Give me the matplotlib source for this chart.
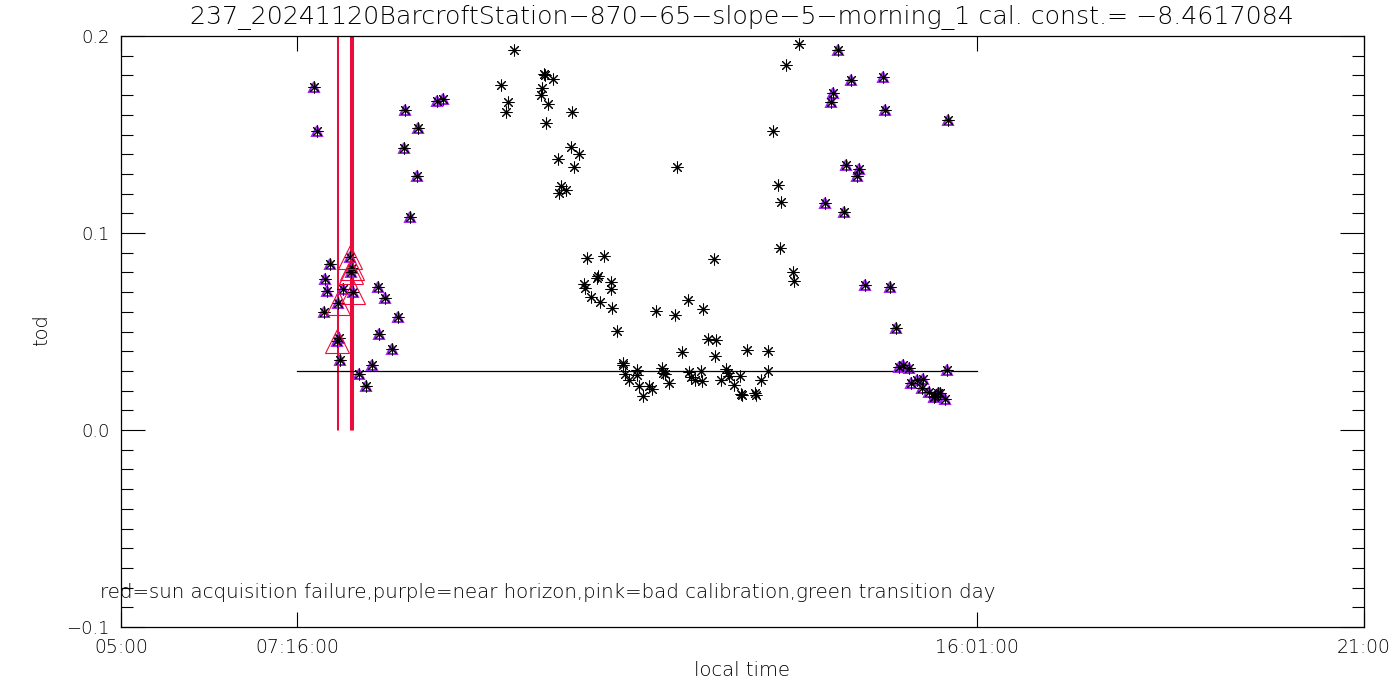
import numpy as np
import matplotlib.pyplot as plt
from matplotlib.ticker import MultipleLocator

# local time in decimal hours, tod
ok_time = [10.063, 9.891, 9.985, 9.960, 10.445, 10.462, 10.557, 10.423, 10.410, 10.500,
           10.809, 10.474, 10.796, 10.891, 10.629, 10.835, 10.668, 10.724, 10.642,
           13.731, 13.564, 13.397, 12.161, 13.461, 13.500,
           11.002, 11.217, 11.136, 11.123, 11.311, 11.303, 10.964, 10.973, 11.054, 11.166,
           11.320, 11.388, 11.466, 11.458, 11.484, 11.539,
           12.637, 13.486, 13.650, 13.663, 11.890, 12.135, 12.302, 12.495, 12.556, 12.663,
           12.225, 12.650, 13.058, 13.332, 11.638, 11.646, 11.668, 11.723, 11.800, 11.831,
           11.964, 11.981, 11.999, 12.058, 12.311, 12.337, 12.388, 12.470, 12.483, 12.791,
           12.817, 12.830, 12.727, 12.894, 12.964, 12.993, 12.980, 13.157, 13.176, 13.234,
           13.324]
ok_tod = [0.1929, 0.1750, 0.1667, 0.1616, 0.1809, 0.1802, 0.1780, 0.1735, 0.1699, 0.1653,
          0.1613, 0.1557, 0.1437, 0.1399, 0.1374, 0.1333, 0.1239, 0.1217, 0.1202,
          0.1958, 0.1851, 0.1516, 0.1334, 0.1242, 0.1156,
          0.0872, 0.0882, 0.0783, 0.0770, 0.0751, 0.0717, 0.0741, 0.0719, 0.0675, 0.0648,
          0.0618, 0.0503, 0.0339, 0.0330, 0.0284, 0.0254,
          0.0868, 0.0922, 0.0804, 0.0755, 0.0604, 0.0582, 0.0660, 0.0614, 0.0462, 0.0457,
          0.0396, 0.0376, 0.0405, 0.0399, 0.0306, 0.0278, 0.0222, 0.0174, 0.0225, 0.0210,
          0.0316, 0.0291, 0.0286, 0.0237, 0.0296, 0.0271, 0.0254, 0.0301, 0.0250, 0.0311,
          0.0291, 0.0276, 0.0252, 0.0227, 0.0273, 0.0178, 0.0183, 0.0186, 0.0178, 0.0252,
          0.0299]

# near horizon (purple)
horizon_time = [7.488, 7.527, 7.694, 7.630, 7.648, 7.861, 7.617, 7.823, 7.806, 8.312,
                8.402, 8.569, 8.325, 8.488, 8.235, 8.067, 8.154, 8.660, 8.827, 8.647,
                8.814, 8.724, 9.064, 9.149,
                14.233, 14.400, 14.812, 14.169, 14.143, 14.838, 15.649, 14.336, 14.503, 14.478,
                14.066, 14.310, 14.573, 14.902, 14.980, 15.010, 15.070, 15.147, 15.636, 15.165,
                15.242, 15.327, 15.314, 15.404, 15.482, 15.512, 15.542, 15.610, 15.468]
horizon_tod = [0.1741, 0.1516, 0.0843, 0.0765, 0.0704, 0.0716, 0.0597, 0.0355, 0.0465, 0.0726,
               0.0668, 0.0574, 0.0487, 0.0413, 0.0328, 0.0283, 0.0225, 0.1624, 0.1531, 0.1430,
               0.1289, 0.1081, 0.1670, 0.1682,
               0.1929, 0.1775, 0.1790, 0.1709, 0.1665, 0.1623, 0.1572, 0.1344, 0.1323, 0.1288,
               0.1151, 0.1107, 0.0734, 0.0724, 0.0516, 0.0320, 0.0328, 0.0313, 0.0306, 0.0239,
               0.0252, 0.0257, 0.0212, 0.0191, 0.0174, 0.0188, 0.0188, 0.0156, 0.0168]

# sun acquisition failure (red), also near horizon
fail_time = [7.948, 7.970, 7.960, 7.990, 7.797, 7.776]
fail_tod = [0.0880, 0.0821, 0.0801, 0.0702, 0.0646, 0.0453]

tick_hours = [5, 7 + 16/60, 16 + 1/60, 21]
tick_labels = ['05:00', '07:16:00', '16:01:00', '21:00']
threshold = 0.03
title = '237_20241120BarcroftStation\u2212870\u221265\u2212slope\u22125\u2212morning_1 cal. const.= \u22128.4617084'
note = 'red=sun acquisition failure,purple=near horizon,pink=bad calibration,green transition day'

RED = '#ec0c3c'
PURPLE = '#a020f0'
ast = (8, 2, 0)

plt.rcParams['font.family'] = ['DejaVu Sans']
plt.rcParams['font.weight'] = 'light'

fig = plt.figure(figsize=(14, 7), dpi=100)
ax = fig.add_axes([121/1400, 1 - 627/700, 1243/1400, 591/700])

all_time = ok_time + horizon_time + fail_time
all_tod = ok_tod + horizon_tod + fail_tod

ax.vlines(fail_time, 0, 0.2, color=RED, lw=0.75)
ax.plot([tick_hours[1], tick_hours[2]], [threshold, threshold], color='black', lw=0.9)
ax.plot(horizon_time + fail_time, horizon_tod + fail_tod, ls='none', marker='^', ms=7.5,
        mfc='none', mec=PURPLE, mew=1.4)
ax.plot(all_time, all_tod, ls='none', marker=ast, ms=8.5, mec='black', mew=0.75)
ax.plot(fail_time, fail_tod, ls='none', marker='^', ms=17, mfc='none', mec=RED, mew=0.8)

ax.set_xlim(5, 21)
ax.set_ylim(-0.1, 0.2)
ax.set_xticks(tick_hours)
ax.set_xticklabels(tick_labels)
ax.set_yticks([-0.1, 0.0, 0.1, 0.2])
ax.set_yticklabels(['\u22120.1', '0.0', '0.1', '0.2'])
ax.yaxis.set_minor_locator(MultipleLocator(0.01))
ax.tick_params(axis='x', direction='in', top=True, length=11, width=0.8, labelsize=13.5, pad=8)
ax.tick_params(axis='y', which='major', direction='in', right=True, length=17, width=0.8,
               labelsize=13, pad=8)
ax.tick_params(axis='y', which='minor', direction='in', right=True, length=8.5, width=0.8)
for s in ax.spines.values():
    s.set_linewidth(0.9)

ax.text(-0.017, 0.058, note, transform=ax.transAxes, ha='left', va='center', fontsize=14.2)
fig.text(742/1400, 1 - 17/700, title, ha='center', va='center', fontsize=18.2)
fig.text(42/1400, 1 - 330/700, 'tod', rotation=90, ha='center', va='center', fontsize=14)
fig.text(742/1400, 1 - 671/700, 'local time', ha='center', va='center', fontsize=14)

fig.savefig('out.png', dpi=100)
